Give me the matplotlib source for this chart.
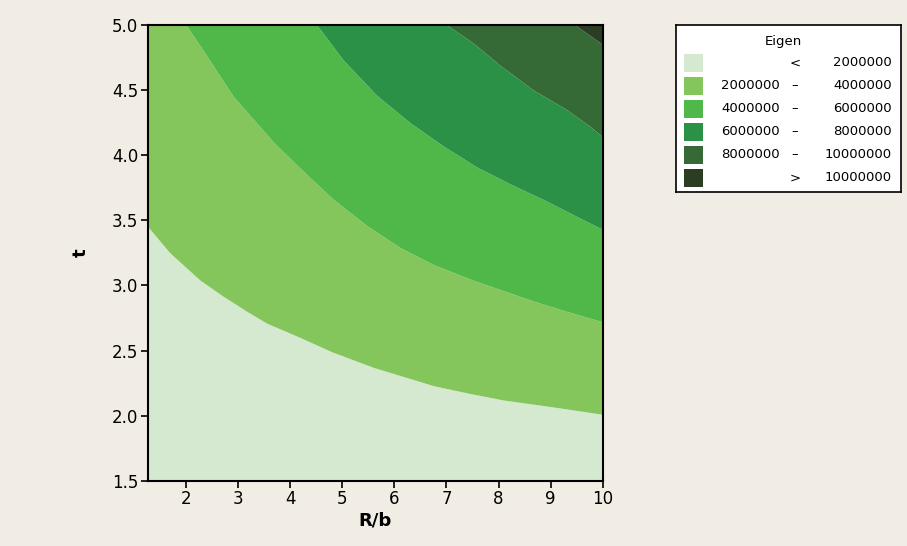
import matplotlib.pyplot as plt
import numpy as np
from matplotlib.patches import Rectangle

BG_COLOR = '#f1ede4'
COLORS = ['#d4e9cf', '#84c55c', '#50b848', '#2b9147', '#356a36', '#2b3d22']
LEVELS = [2000000, 4000000, 6000000, 8000000, 10000000]

X_MIN, X_MAX = 1.27, 10.0
T_MIN, T_MAX = 1.5, 5.0

# contour boundaries, (R/b, t) pairs per level
B1_X = [1.27, 1.69, 2.27, 2.70, 3.17, 3.55, 4.19, 4.80, 5.60, 6.75, 7.45, 8.09, 8.99, 10.0]
B1_T = [3.45, 3.25, 3.04, 2.92, 2.80, 2.71, 2.60, 2.49, 2.37, 2.23, 2.17, 2.12, 2.07, 2.01]
B2_X = [2.00, 2.27, 2.91, 3.68, 4.19, 4.83, 5.47, 6.11, 6.75, 7.51, 8.67, 9.31, 10.0]
B2_T = [5.00, 4.84, 4.45, 4.10, 3.90, 3.66, 3.46, 3.29, 3.16, 3.04, 2.88, 2.80, 2.72]
B3_X = [4.51, 5.02, 5.66, 6.30, 6.94, 7.58, 8.22, 8.86, 9.50, 10.0]
B3_T = [5.00, 4.73, 4.46, 4.25, 4.07, 3.91, 3.78, 3.66, 3.53, 3.43]
B4_X = [7.01, 7.52, 8.03, 8.67, 9.31, 9.76, 10.0]
B4_T = [5.00, 4.86, 4.69, 4.50, 4.35, 4.22, 4.14]
B5_X = [9.47, 10.0]
B5_T = [5.00, 4.85]

X_TICKS = [2, 3, 4, 5, 6, 7, 8, 9, 10]
Y_TICKS = [1.5, 2.0, 2.5, 3.0, 3.5, 4.0, 4.5, 5.0]

W, H = 907, 546
fig = plt.figure(figsize=(W / 100, H / 100), dpi=100, facecolor=BG_COLOR)
ax = fig.add_axes([148 / W, 1 - 480.7 / H, (602.7 - 148) / W, (480.7 - 25) / H])

xs = np.linspace(X_MIN, X_MAX, 600)
bounds = [np.full_like(xs, T_MIN)]
for bx, bt in [(B1_X, B1_T), (B2_X, B2_T), (B3_X, B3_T), (B4_X, B4_T), (B5_X, B5_T)]:
    bounds.append(np.interp(xs, bx, bt, left=T_MAX, right=bt[-1]))
bounds.append(np.full_like(xs, T_MAX))

for i, color in enumerate(COLORS):
    ax.fill_between(xs, bounds[i], bounds[i + 1], color=color, lw=0)

ax.set_xlim(X_MIN, X_MAX)
ax.set_ylim(T_MIN, T_MAX)
ax.set_xticks(X_TICKS)
ax.set_yticks(Y_TICKS)
ax.set_yticklabels([f"{v:.1f}" for v in Y_TICKS])
ax.tick_params(direction='out', length=5, width=1.2, labelsize=12, pad=2)
for sp in ax.spines.values():
    sp.set_linewidth(1.5)
ax.set_xlabel("R/b", fontsize=13, fontweight='bold', labelpad=2)
ax.set_ylabel("t", fontsize=13, fontweight='bold', labelpad=16)

# legend box drawn in pixel units
lx, ly, lw, lh = 676, 25, 225, 167
lax = fig.add_axes([lx / W, 1 - (ly + lh) / H, lw / W, lh / H])
lax.set_xlim(0, lw)
lax.set_ylim(lh, 0)
lax.set_xticks([])
lax.set_yticks([])
lax.set_facecolor('white')
for sp in lax.spines.values():
    sp.set_linewidth(1.2)

fs = 9.5
lax.text(107, 17, "Eigen", ha='center', va='center', fontsize=fs)
labels = [("", "<", LEVELS[0])]
for lo, hi in zip(LEVELS[:-1], LEVELS[1:]):
    labels.append((lo, "–", hi))
labels.append(("", ">", LEVELS[-1]))
for i, (left, mid, right) in enumerate(labels):
    yc = 37.7 + i * 23
    lax.add_patch(Rectangle((8, yc - 9), 19, 18, color=COLORS[i], lw=0))
    lax.text(104, yc, str(left), ha='right', va='center', fontsize=fs)
    lax.text(119, yc, mid, ha='center', va='center', fontsize=fs)
    lax.text(216, yc, str(right), ha='right', va='center', fontsize=fs)

fig.savefig("out.png", dpi=100, facecolor=BG_COLOR)
